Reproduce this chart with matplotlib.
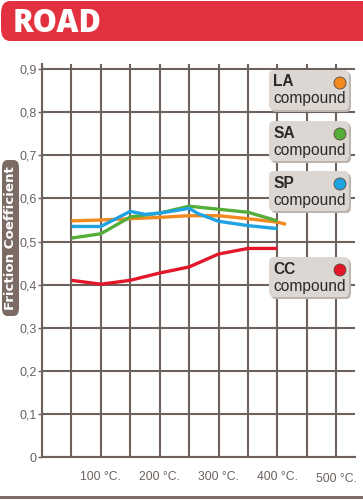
import matplotlib
matplotlib.use("Agg")
import matplotlib.pyplot as plt
from matplotlib.patches import FancyBboxPatch, Circle, Rectangle

plt.rcParams['font.family'] = ['Liberation Sans', 'DejaVu Sans']

# temperatures (deg C) and friction coefficient per compound
temp_la = [50, 100, 150, 200, 250, 300, 350, 400, 415]
mu_la = [0.548, 0.550, 0.553, 0.556, 0.560, 0.560, 0.553, 0.545, 0.540]

temp_sa = [50, 100, 150, 200, 250, 300, 350, 400]
mu_sa = [0.508, 0.518, 0.557, 0.566, 0.582, 0.575, 0.568, 0.548]

temp_sp = [50, 100, 150, 175, 200, 250, 265, 300, 350, 400]
mu_sp = [0.535, 0.535, 0.570, 0.563, 0.566, 0.577, 0.565, 0.547, 0.537, 0.530]

temp_cc = [50, 100, 150, 200, 250, 300, 350, 400]
mu_cc = [0.410, 0.401, 0.410, 0.427, 0.441, 0.471, 0.484, 0.484]

compounds = ['LA', 'SA', 'SP', 'CC']
colors = ['#f28a1e', '#55ad3a', '#1fa3e2', '#e3172a']

y_ticks = [0, 0.1, 0.2, 0.3, 0.4, 0.5, 0.6, 0.7, 0.8, 0.9]
y_labels = ['0', '0,1', '0,2', '0,3', '0,4', '0,5', '0,6', '0,7', '0,8', '0,9']
x_grid = list(range(0, 501, 50))
x_labels = {100: '100 °C.', 200: '200 °C.', 300: '300 °C.', 400: '400 °C.', 500: '500 °C.'}

W, H = 363, 500
grid_c = '#6e605a'
text_c = '#6a625e'


def fx(x):
    return x / W


def fy(y):
    return 1 - y / H


fig = plt.figure(figsize=(W / 100, H / 100), dpi=100)
fig.patch.set_facecolor('white')

# axes placed in pixel terms
ax = fig.add_axes([fx(42), fy(457), (355 - 42) / W, (457 - 64) / H])
ax.set_xlim(0, 532)
ax.set_ylim(0, 0.912)

for x in x_grid:
    ax.axvline(x, color=grid_c, lw=1.5, zorder=1)
for y in y_ticks:
    ax.axhline(y, color=grid_c, lw=1.5, zorder=1)

for s in ['top', 'right']:
    ax.spines[s].set_visible(False)
for s in ['left', 'bottom']:
    ax.spines[s].set_color(grid_c)
    ax.spines[s].set_linewidth(1.5)

ax.set_yticks(y_ticks)
ax.set_yticklabels(y_labels)
ax.tick_params(axis='y', length=3, width=1, color=grid_c, labelcolor=text_c,
               labelsize=9, pad=1)
ax.set_xticks(list(x_labels.keys()))
ax.set_xticklabels(list(x_labels.values()))
ax.tick_params(axis='x', length=0, labelcolor=text_c, labelsize=8.8, pad=10)
ax.get_xticklabels()[-1].set_y(-0.006)

series = [(temp_la, mu_la), (temp_sa, mu_sa), (temp_sp, mu_sp), (temp_cc, mu_cc)]
for (t, m), c in zip(series, colors):
    ax.plot(t, m, color=c, lw=2.4, solid_capstyle='butt', zorder=3)

# title bar
fig.patches.append(FancyBboxPatch((fx(1), fy(41)), fx(380), 40 / H,
                                  boxstyle='round,pad=0,rounding_size=0.025',
                                  transform=fig.transFigure, fc='#e3323f', ec='none'))
fig.text(fx(13), fy(32), 'ROAD', color='white', fontsize=22, fontweight='heavy',
         family=['Open Sans', 'DejaVu Sans'], va='baseline', ha='left')

# y label box
fig.patches.append(FancyBboxPatch((fx(2), fy(316)), fx(17), 156 / H,
                                  boxstyle='round,pad=0,rounding_size=0.015',
                                  transform=fig.transFigure, fc='#7c6b64', ec='none'))
fig.text(fx(10.5), fy(238), 'Friction Coefficient', color='white', fontsize=9.6,
         fontweight='bold', rotation=90, va='center', ha='center',
         family=['DejaVu Sans'])

# compound boxes
box_tops = [70, 121, 171, 257]
for name, c, top in zip(compounds, colors, box_tops):
    fig.patches.append(FancyBboxPatch((fx(271), fy(top + 42)), fx(80), 40 / H,
                                      boxstyle='round,pad=0,rounding_size=0.012',
                                      transform=fig.transFigure, fc='#bdb5b0',
                                      ec='none', zorder=4))
    fig.patches.append(FancyBboxPatch((fx(269), fy(top + 40)), fx(80), 40 / H,
                                      boxstyle='round,pad=0,rounding_size=0.012',
                                      transform=fig.transFigure, fc='#dcd7d3',
                                      ec='none', zorder=5))
    fig.text(fx(273), fy(top + 12), name, color='#2a2a2a', fontsize=11.2,
             fontweight='bold', va='center', ha='left', zorder=6)
    fig.text(fx(273), fy(top + 29), 'compound', color='#2a2a2a', fontsize=11.2,
             va='center', ha='left', zorder=6)
    dot = Circle((340 / 100, (H - top - 13) / 100), 0.06,
                 transform=fig.dpi_scale_trans, fc=c, ec='#5a4a40', lw=0.6, zorder=6)
    fig.patches.append(dot)

# bottom rule
fig.patches.append(Rectangle((0, fy(498.5)), 1, 3 / H, transform=fig.transFigure,
                             fc='#7c6b64', ec='none'))

fig.savefig('out.png', dpi=100)
